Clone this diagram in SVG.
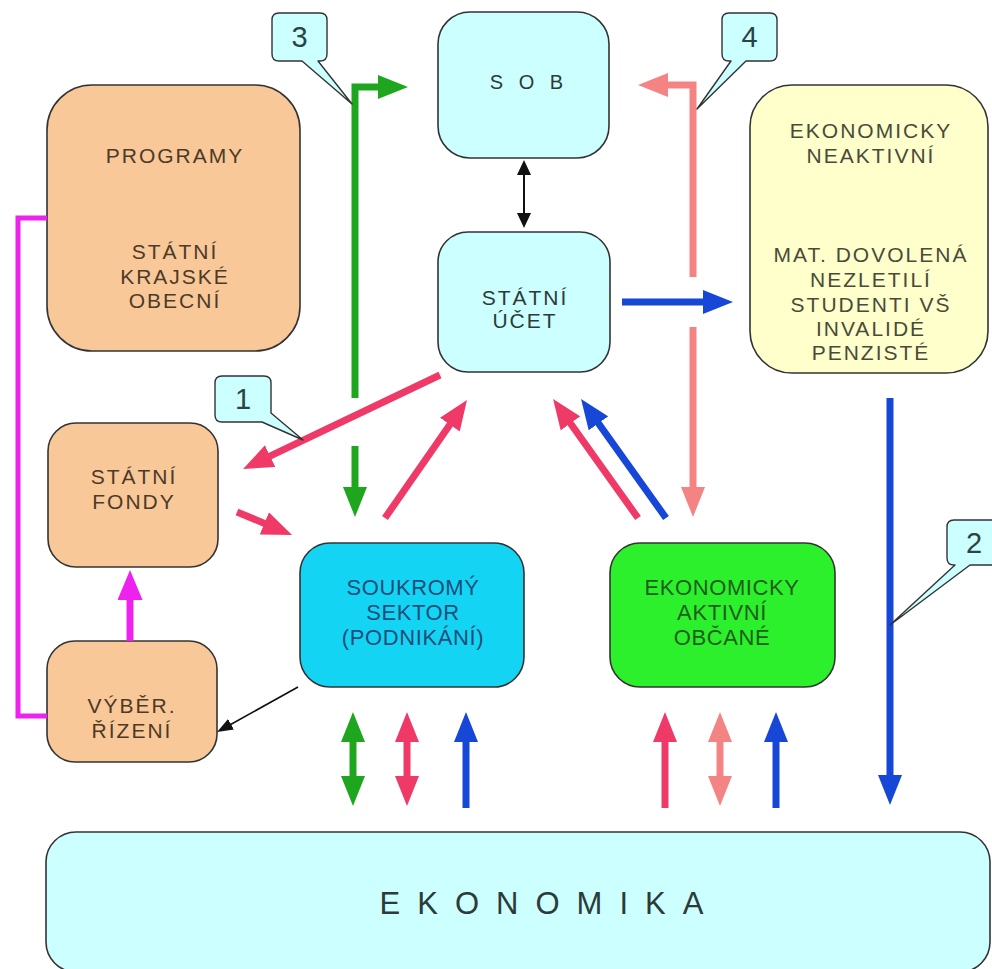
<svg xmlns="http://www.w3.org/2000/svg" width="992" height="969" viewBox="0 0 992 969">
<style>
text{font-family:"Liberation Sans",Arial,sans-serif;text-anchor:middle}
.box{stroke:#333;stroke-width:1.6}
.cy{fill:#ccffff}
.or{fill:#f8c898}
.ye{fill:#ffffcc}
.t{font-size:21px;letter-spacing:2px}
.t2{font-size:22px;letter-spacing:0.6px}
.tc{fill:#2d3a3a}
.to{fill:#4d3a28}
.ty{fill:#4a4a3a}
.num{font-size:29px;fill:#2a4444}
.call{fill:#ccffff;stroke:#333;stroke-width:1.4;stroke-linejoin:round}
.a{fill:none;stroke-width:7}
.g{stroke:#1ea61e}
.p{stroke:#ef3a68}
.s{stroke:#f48484}
.b{stroke:#1747d6}
.m{stroke:#ee22ee}
</style>
<defs>
<marker id="hg" markerUnits="userSpaceOnUse" markerWidth="30" markerHeight="24" viewBox="0 0 30 24" refX="6" refY="12" orient="auto-start-reverse"><path d="M0,0 L30,12 L0,24 Z" fill="#1ea61e"/></marker>
<marker id="hp" markerUnits="userSpaceOnUse" markerWidth="30" markerHeight="24" viewBox="0 0 30 24" refX="6" refY="12" orient="auto-start-reverse"><path d="M0,0 L30,12 L0,24 Z" fill="#ef3a68"/></marker>
<marker id="hs" markerUnits="userSpaceOnUse" markerWidth="30" markerHeight="24" viewBox="0 0 30 24" refX="6" refY="12" orient="auto-start-reverse"><path d="M0,0 L30,12 L0,24 Z" fill="#f48484"/></marker>
<marker id="hb" markerUnits="userSpaceOnUse" markerWidth="30" markerHeight="24" viewBox="0 0 30 24" refX="6" refY="12" orient="auto-start-reverse"><path d="M0,0 L30,12 L0,24 Z" fill="#1747d6"/></marker>
<marker id="hm" markerUnits="userSpaceOnUse" markerWidth="30" markerHeight="25" viewBox="0 0 30 25" refX="6" refY="12.5" orient="auto-start-reverse"><path d="M0,0 L30,12.5 L0,25 Z" fill="#ee22ee"/></marker>
<marker id="hk" markerUnits="userSpaceOnUse" markerWidth="15" markerHeight="14" viewBox="0 0 15 14" refX="3" refY="7" orient="auto-start-reverse"><path d="M0,0 L15,7 L0,14 Z" fill="#111"/></marker>
<marker id="hk2" markerUnits="userSpaceOnUse" markerWidth="16" markerHeight="12" viewBox="0 0 16 12" refX="3" refY="6" orient="auto-start-reverse"><path d="M0,0 L16,6 L0,12 Z" fill="#111"/></marker>
</defs>
<rect width="992" height="969" fill="#ffffff"/>

<g id="sob"><rect class="box cy" x="438" y="12" width="171" height="146" rx="32"/><text class="tc" x="529" y="89" font-size="20" letter-spacing="5">S O B</text></g>
<g id="statni-ucet"><rect class="box cy" x="438" y="232" width="172" height="140" rx="30"/><text class="t tc" x="525" y="305">STÁTNÍ</text><text class="t tc" x="525" y="328">ÚČET</text></g>
<g id="programy"><rect class="box or" x="47" y="85" width="253" height="266" rx="45"/><text class="t to" x="175" y="163">PROGRAMY</text><text class="t to" x="175" y="259">STÁTNÍ</text><text class="t to" x="175" y="284">KRAJSKÉ</text><text class="t to" x="175" y="308">OBECNÍ</text></g>
<g id="neaktivni"><rect class="box ye" x="750" y="85" width="238" height="288" rx="42"/><text class="t ty" x="871" y="138">EKONOMICKY</text><text class="t ty" x="871" y="163">NEAKTIVNÍ</text><text class="t ty" x="871" y="262">MAT. DOVOLENÁ</text><text class="t ty" x="871" y="287">NEZLETILÍ</text><text class="t ty" x="871" y="312">STUDENTI VŠ</text><text class="t ty" x="871" y="336">INVALIDÉ</text><text class="t ty" x="871" y="360">PENZISTÉ</text></g>
<g id="statni-fondy"><rect class="box or" x="48" y="423" width="170" height="144" rx="28"/><text class="t to" x="134" y="484">STÁTNÍ</text><text class="t to" x="134" y="509">FONDY</text></g>
<g id="vyber-rizeni"><rect class="box or" x="47" y="641" width="170" height="121" rx="28"/><text class="t to" x="132" y="713">VÝBĚR.</text><text class="t to" x="132" y="738">ŘÍZENÍ</text></g>
<g id="soukromy"><rect class="box" fill="#14d4f4" x="300" y="543" width="224" height="144" rx="30"/><text class="t2" fill="#1f4d7a" x="413" y="595">SOUKROMÝ</text><text class="t2" fill="#1f4d7a" x="413" y="620">SEKTOR</text><text class="t2" fill="#1f4d7a" x="413" y="645">(PODNIKÁNÍ)</text></g>
<g id="aktivni"><rect class="box" fill="#2cf02c" x="610" y="543" width="225" height="144" rx="30"/><text class="t2" fill="#1d5e1d" x="722" y="595">EKONOMICKY</text><text class="t2" fill="#1d5e1d" x="722" y="620">AKTIVNÍ</text><text class="t2" fill="#1d5e1d" x="722" y="645">OBČANÉ</text></g>
<g id="ekonomika"><rect class="box cy" x="46" y="832" width="944" height="140" rx="30"/><text class="tc" x="550" y="914" font-size="31" letter-spacing="17">EKONOMIKA</text></g>

<g id="connectors">
<path class="a g" d="M355,398 V87 H384" marker-end="url(#hg)"/>
<path class="a g" d="M355,446 V493" marker-end="url(#hg)"/>
<path class="a s" d="M693,277 V85 H662" marker-end="url(#hs)"/>
<path class="a s" d="M693,327 V493" marker-end="url(#hs)"/>
<path class="a b" d="M622,302 H709" marker-end="url(#hb)"/>
<path fill="none" stroke="#111" stroke-width="2" d="M524,172 V216" marker-start="url(#hk)" marker-end="url(#hk)"/>
<path class="a p" d="M440,375 L264.7,458.7" marker-end="url(#hp)"/>
<path class="a p" d="M237,512 L269.9,525.7" marker-end="url(#hp)"/>
<path class="a p" d="M385,518 L453.3,419.7" marker-end="url(#hp)"/>
<path class="a p" d="M638,518 L567,418.5" marker-end="url(#hp)"/>
<path class="a b" d="M666,518 L595,418.5" marker-end="url(#hb)"/>
<path class="a b" d="M890,398 V781" marker-end="url(#hb)"/>
<path fill="none" stroke="#111" stroke-width="1.6" d="M298,687 L228.4,725.7" marker-end="url(#hk2)"/>
<path fill="none" stroke="#ee22ee" stroke-width="5" d="M47,218 H18 V716 H47"/>
<path class="a m" d="M130,641 V594" marker-end="url(#hm)"/>
<path class="a g" d="M353,736 V782" marker-start="url(#hg)" marker-end="url(#hg)"/>
<path class="a p" d="M407,736 V782" marker-start="url(#hp)" marker-end="url(#hp)"/>
<path class="a b" d="M466,808 V736" marker-end="url(#hb)"/>
<path class="a p" d="M665,808 V736" marker-end="url(#hp)"/>
<path class="a s" d="M720,736 V782" marker-start="url(#hs)" marker-end="url(#hs)"/>
<path class="a b" d="M776,808 V736" marker-end="url(#hb)"/>
</g>

<g id="callout-3"><path class="call" d="M279,13 H320 Q327,13 327,20 V54 Q327,61 320,61 H318 L352,104 L302,61 H279 Q272,61 272,54 V20 Q272,13 279,13 Z"/><text class="num" x="299.5" y="47">3</text></g>
<g id="callout-4"><path class="call" d="M729,13 H770 Q777,13 777,20 V54 Q777,61 770,61 H746 L697,109 L731,61 H729 Q722,61 722,54 V20 Q722,13 729,13 Z"/><text class="num" x="749.5" y="47">4</text></g>
<g id="callout-1"><path class="call" d="M222,376 H264 Q271,376 271,383 V413 L303,440 L262,422 H222 Q215,422 215,415 V383 Q215,376 222,376 Z"/><text class="num" x="243" y="409">1</text></g>
<g id="callout-2"><path class="call" d="M954,520 H1000 V565 H970 L890,625 L955,565 H954 Q947,565 947,558 V527 Q947,520 954,520 Z"/><text class="num" x="974" y="553">2</text></g>
</svg>
